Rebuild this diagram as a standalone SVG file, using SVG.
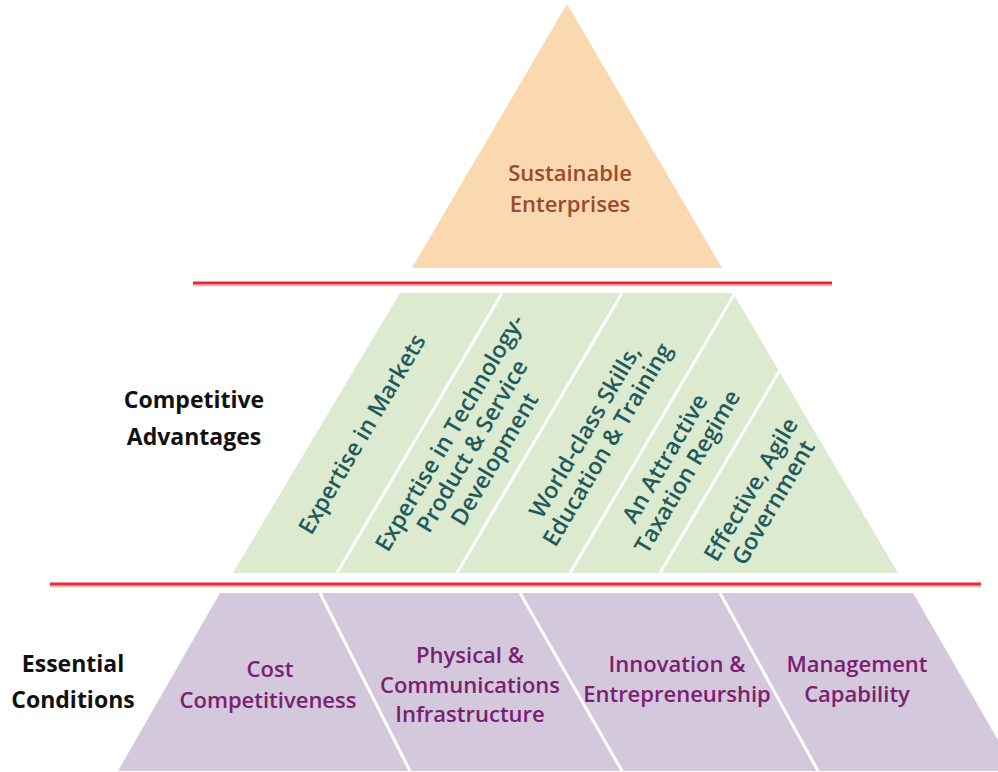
<svg xmlns="http://www.w3.org/2000/svg" width="998" height="772" viewBox="0 0 998 772">
<style>
.t{font-family:"Open Sans","Liberation Sans",sans-serif;font-size:22px;font-weight:600;text-anchor:middle}
.g{font-size:23px}
.lab{font-family:"Open Sans","Liberation Sans",sans-serif;font-size:23px;font-weight:700;text-anchor:middle;fill:#111}
.brown{fill:#9C4A2C}
.teal{fill:#1F5A5C}
.purp{fill:#7B2071}
.div{stroke:#fff;stroke-width:3;fill:none}
.red{stroke:#E12B38;stroke-width:3}
.pink{stroke:#F3B2A6;stroke-width:1.5}
</style>
<rect width="998" height="772" fill="#fff"/>
<g id="top">
<polygon points="567,4 722,268 412,268" fill="#FAD8B0"/>
<text class="t brown" x="570" y="181">Sustainable</text>
<text class="t brown" x="570" y="212">Enterprises</text>
</g>
<g id="separators">
<line class="pink" x1="193" y1="285.5" x2="832" y2="285.5"/>
<line class="red" x1="193" y1="283" x2="832" y2="283"/>
<line class="pink" x1="50" y1="586.5" x2="981" y2="586.5"/>
<line class="red" x1="50" y1="584" x2="981" y2="584"/>
</g>
<g id="middle">
<polygon points="400,293 733,293 898,573 233,573" fill="#DCEAD0"/>
<line class="div" x1="337" y1="573" x2="502" y2="293"/>
<line class="div" x1="457" y1="573" x2="622" y2="293"/>
<line class="div" x1="570" y1="573" x2="735" y2="293"/>
<line class="div" x1="660" y1="573" x2="780" y2="370"/>
</g>
<g id="ca-markets">
<text class="t g teal" transform="translate(362,434) rotate(-59.5)" y="8">Expertise in Markets</text>
</g>
<g id="ca-technology">
<text class="t g teal" transform="translate(472,446) rotate(-59.5)"><tspan x="0" y="-18">Expertise in Technology-</tspan><tspan x="0" y="8">Product &amp; Service</tspan><tspan x="0" y="34">Development</tspan></text>
</g>
<g id="ca-skills">
<text class="t g teal" transform="translate(596,438) rotate(-59.5)"><tspan x="0" y="-5">World-class Skills,</tspan><tspan x="0" y="21">Education &amp; Training</tspan></text>
</g>
<g id="ca-taxation">
<text class="t g teal" transform="translate(676,465) rotate(-59.5)"><tspan x="0" y="-5">An Attractive</tspan><tspan x="0" y="21">Taxation Regime</tspan></text>
</g>
<g id="ca-government">
<text class="t g teal" transform="translate(762,496) rotate(-59.5)"><tspan x="0" y="-5">Effective, Agile</tspan><tspan x="0" y="21">Government</tspan></text>
</g>
<g id="bottom">
<polygon points="220,593 913,593 1016,771 118,771" fill="#D3C8DC"/>
<line class="div" x1="320" y1="593" x2="410" y2="771"/>
<line class="div" x1="520" y1="593" x2="622" y2="771"/>
<line class="div" x1="720" y1="593" x2="818" y2="771"/>
</g>
<g id="ec-cost">
<text class="t purp" x="270" y="677">Cost</text>
<text class="t purp" x="268" y="708">Competitiveness</text>
</g>
<g id="ec-infrastructure">
<text class="t purp" x="470" y="663">Physical &amp;</text>
<text class="t purp" x="470" y="693">Communications</text>
<text class="t purp" x="470" y="722">Infrastructure</text>
</g>
<g id="ec-innovation">
<text class="t purp" x="677" y="672">Innovation &amp;</text>
<text class="t purp" x="677" y="702">Entrepreneurship</text>
</g>
<g id="ec-management">
<text class="t purp" x="857" y="672">Management</text>
<text class="t purp" x="857" y="702">Capability</text>
</g>
<g id="label-ca">
<text class="lab" x="194" y="408">Competitive</text>
<text class="lab" x="194" y="445">Advantages</text>
</g>
<g id="label-ec">
<text class="lab" x="73" y="672">Essential</text>
<text class="lab" x="73" y="708">Conditions</text>
</g>
</svg>
